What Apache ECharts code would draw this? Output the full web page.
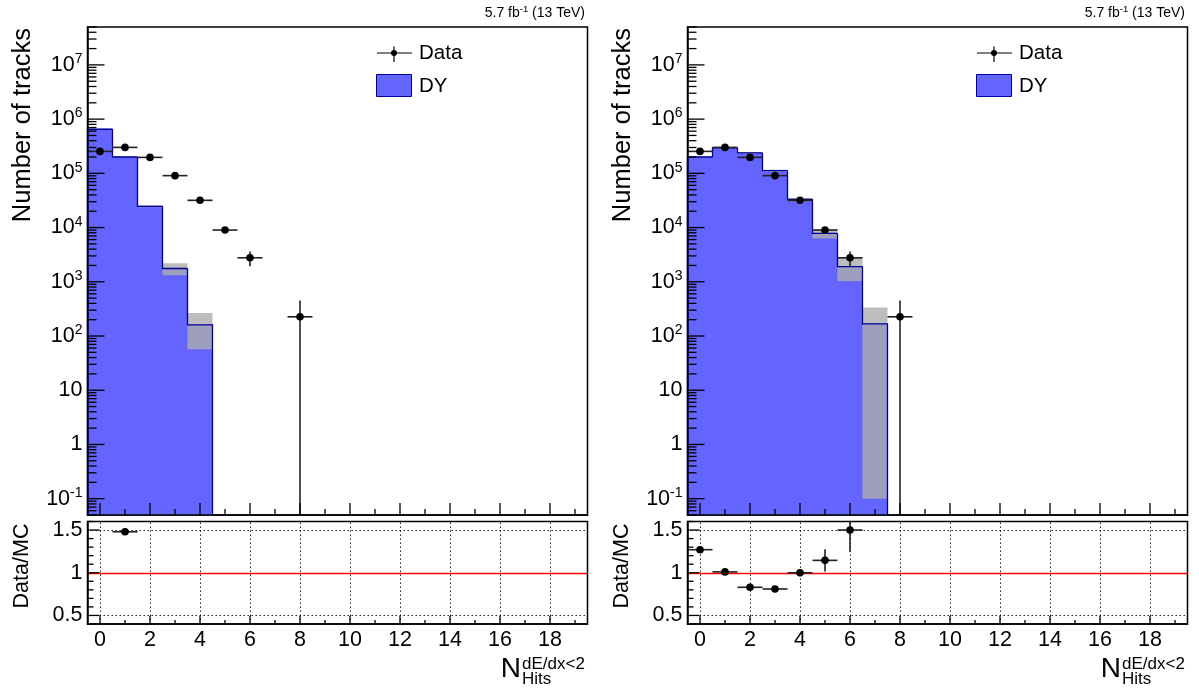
<!DOCTYPE html>
<html>
<head>
<meta charset="utf-8">
<script src="https://cdn.jsdelivr.net/npm/echarts@6/dist/echarts.min.js"></script>
<style>
html,body{margin:0;padding:0;background:#fff;}
#chart{width:1199px;height:699px;}
</style>
</head>
<body>
<div id="chart"></div>
<script>
// ---------------- data ----------------
const bins = [0, 1, 2, 3, 4, 5, 6, 7, 8];
const dataVals = [2.54e5, 3.01e5, 1.97e5, 9.07e4, 3.18e4, 9.0e3, 2.77e3, 0, 226];
const dataErrs = [1.2e3, 1.3e3, 1.1e3, 8e2, 5e2, 4e2, 8.3e2, 0, 226];
const dyLeftVals = [6.5e5, 2.0e5, 2.46e4, 1.76e3, 161, 0, 0, 0, 0];
const dyLeftErrs = [8e3, 3e3, 1.0e3, 440, 104, 0, 0, 0, 0];
const dyRightVals = [2.0e5, 2.94e5, 2.38e5, 1.12e5, 3.32e4, 7.8e3, 1.9e3, 167, 0];
const dyRightErrs = [3e3, 5e3, 9e3, 5e3, 2e3, 1.5e3, 870, 167, 0];
const ratioLeftVals = [null, 1.48, null, null, null, null, null, null, null];
const ratioLeftErrs = [0, 0.01, 0, 0, 0, 0, 0, 0, 0];
const ratioRightVals = [1.27, 1.01, 0.83, 0.81, 1.0, 1.145, 1.5, null, null];
const ratioRightErrs = [0.01, 0.01, 0.01, 0.01, 0.04, 0.13, 0.255, 0, 0];
const xLabelValues = [0, 2, 4, 6, 8, 10, 12, 14, 16, 18];
const legendLabels = ['Data', 'DY'];
const lumiText = '5.7 fb{s|-1} (13 TeV)';
const yTitleTop = 'Number of tracks';
const yTitleRatio = 'Data/MC';

// ---------------- styling ----------------
const FONT = '"Liberation Sans", Arial, Helvetica, sans-serif';
const BLUE = '#6464ff';
const BLUE_LINE = '#000099';
const BAND = 'rgba(172,172,172,0.8)';
const X_MIN = -0.5, X_MAX = 19.5;
const TOP_MIN = 0.05, TOP_MAX = 5e7;
const R_MIN = 0.4, R_MAX = 1.6;

const panels = [
  {off: 0, dy: dyLeftVals, dyErr: dyLeftErrs, rv: ratioLeftVals, re: ratioLeftErrs},
  {off: 600, dy: dyRightVals, dyErr: dyRightErrs, rv: ratioRightVals, re: ratioRightErrs}
];

function fillRender(yMin) {
  return function (params, api) {
    const x = api.value(0), v = api.value(1);
    const a = api.coord([x - 0.5, yMin]);
    const b = api.coord([x + 0.5, v]);
    return {type: 'rect', shape: {x: a[0], y: b[1], width: b[0] - a[0], height: a[1] - b[1]},
      style: {fill: BLUE, stroke: BLUE, lineWidth: 1}};
  };
}
function bandRender(yMin, yMax) {
  return function (params, api) {
    const x = api.value(0), v = api.value(1), e = api.value(2);
    const lo = Math.max(v - e, 0.1), hi = Math.min(v + e, yMax);
    const a = api.coord([x - 0.5, Math.max(lo, yMin)]);
    const b = api.coord([x + 0.5, hi]);
    return {type: 'rect', shape: {x: a[0], y: b[1], width: b[0] - a[0], height: a[1] - b[1]},
      style: {fill: BAND}};
  };
}
function outlineRender(yMin) {
  return function (params, api) {
    const x = api.value(0), v = api.value(1), prev = api.value(2), last = api.value(3);
    const p0 = api.coord([x - 0.5, prev > 0 ? prev : yMin]);
    const p1 = api.coord([x - 0.5, v]);
    const p2 = api.coord([x + 0.5, v]);
    const pts = [p0, p1, p2];
    if (last) pts.push(api.coord([x + 0.5, yMin]));
    return {type: 'polyline', shape: {points: pts}, style: {stroke: BLUE_LINE, lineWidth: 1.3, fill: null}};
  };
}
function pointRender(yMin, yMax) {
  return function (params, api) {
    const x = api.value(0), v = api.value(1), e = api.value(2);
    const c = api.coord([x, v]);
    const l = api.coord([x - 0.5, v]);
    const r = api.coord([x + 0.5, v]);
    const lo = api.coord([x, Math.max(v - e, yMin)]);
    const hi = api.coord([x, Math.min(v + e, yMax)]);
    return {type: 'group', children: [
      {type: 'line', shape: {x1: l[0], y1: c[1], x2: r[0], y2: c[1]}, style: {stroke: '#222', lineWidth: 1.6}},
      {type: 'line', shape: {x1: c[0], y1: lo[1], x2: c[0], y2: hi[1]}, style: {stroke: '#222', lineWidth: 1.6}},
      {type: 'circle', shape: {cx: c[0], cy: c[1], r: 3.8}, style: {fill: '#000'}}
    ]};
  };
}
function xTickRender(majLen, minLen) {
  return function (params, api) {
    const x = api.value(0), y = api.value(1), major = api.value(2);
    const p = api.coord([x, y]);
    const len = major ? majLen : minLen;
    return {type: 'line', shape: {x1: p[0], y1: p[1], x2: p[0], y2: p[1] - len},
      style: {stroke: '#000', lineWidth: 1.3}};
  };
}
function yTickRender(majLen, minLen) {
  return function (params, api) {
    const x = api.value(0), y = api.value(1), major = api.value(2);
    const p = api.coord([x, y]);
    const len = major ? majLen : minLen;
    return {type: 'line', shape: {x1: p[0], y1: p[1], x2: p[0] + len, y2: p[1]},
      style: {stroke: '#000', lineWidth: 1.3}};
  };
}

// tick positions
const xTicks = [];
for (let t = 0; t <= 19; t++) xTicks.push([t, t % 2 === 0 ? 1 : 0]);
const logTicks = [];
for (let k = -2; k <= 7; k++) {
  for (let m = 1; m <= 9; m++) {
    const v = m * Math.pow(10, k);
    if (v >= TOP_MIN * 0.999 && v <= TOP_MAX * 1.001) logTicks.push([v, m === 1 ? 1 : 0]);
  }
}
const ratioTicks = [];
for (let i = 4; i <= 16; i++) ratioTicks.push([i / 10, i % 5 === 0 ? 1 : 0]);

function logLabel(v) {
  const lg = Math.log10(v);
  const l = Math.round(lg);
  if (Math.abs(lg - l) > 1e-6) return '';
  if (l === 0) return '1';
  if (l === 1) return '10';
  return '{b|10}{s|' + l + '}';
}

const grid = [], xAxis = [], yAxis = [], series = [], graphic = [];

panels.forEach((P, pi) => {
  const off = P.off;
  const gTop = grid.length, gRat = gTop + 1;
  grid.push({left: 87.5 + off, top: 27, width: 500, height: 488, show: true,
    borderColor: '#000', borderWidth: 1.5, backgroundColor: 'transparent'});
  grid.push({left: 87.5 + off, top: 521.5, width: 500, height: 102.5, show: true,
    borderColor: '#000', borderWidth: 1.5, backgroundColor: 'transparent'});

  const axisLineStyle = {show: true, onZero: false, lineStyle: {color: '#000', width: 1.5}};
  xAxis.push({gridIndex: gTop, type: 'value', min: X_MIN, max: X_MAX, interval: 0.5, z: 10,
    axisLine: axisLineStyle, axisTick: {show: false}, axisLabel: {show: false}, splitLine: {show: false}});
  xAxis.push({gridIndex: gRat, type: 'value', min: X_MIN, max: X_MAX, interval: 0.5, z: 10,
    axisLine: axisLineStyle, axisTick: {show: false}, splitLine: {show: false},
    axisLabel: {show: true, margin: 5, color: '#000', fontFamily: FONT, fontSize: 21.5,
      formatter: function (v) { const r = Math.round(v * 2); return (r >= 0 && r % 4 === 0 && xLabelValues.indexOf(r / 2) >= 0) ? String(r / 2) : ''; }}});
  yAxis.push({gridIndex: gTop, type: 'log', logBase: 10, min: TOP_MIN, max: TOP_MAX, splitNumber: 9, z: 10,
    axisLine: axisLineStyle, axisTick: {show: false}, splitLine: {show: false},
    axisLabel: {show: true, margin: 5, color: '#000', fontFamily: FONT, fontSize: 21.5, formatter: logLabel,
      showMinLabel: false, showMaxLabel: false,
      rich: {b: {fontFamily: FONT, fontSize: 21.5, color: '#000'},
             s: {fontFamily: FONT, fontSize: 14, color: '#000', padding: [0, 0, 11, 0]}}}});
  yAxis.push({gridIndex: gRat, type: 'value', min: R_MIN, max: R_MAX, interval: 0.1, z: 10,
    axisLine: axisLineStyle, axisTick: {show: false}, splitLine: {show: false},
    axisLabel: {show: true, margin: 5, color: '#000', fontFamily: FONT, fontSize: 21.5,
      formatter: function (v) { const r = Math.round(v * 10); return r === 5 ? '0.5' : r === 10 ? '1' : r === 15 ? '1.5' : ''; }}});

  const xi = xAxis.length - 2, yi = yAxis.length - 2;
  const xr = xi + 1, yr = yi + 1;

  const dyItems = [], outItems = [];
  bins.forEach((b, i) => {
    if (P.dy[i] > 0) {
      dyItems.push([b, P.dy[i], P.dyErr[i]]);
      const last = !(P.dy[i + 1] > 0);
      outItems.push([b, P.dy[i], i > 0 ? P.dy[i - 1] : 0, last ? 1 : 0]);
    }
  });
  const ptItems = [];
  bins.forEach((b, i) => { if (dataVals[i] > 0) ptItems.push([b, dataVals[i], dataErrs[i]]); });
  const rItems = [];
  bins.forEach((b, i) => { if (P.rv[i] != null) rItems.push([b, P.rv[i], P.re[i]]); });

  const common = {type: 'custom', silent: true, animation: false, clip: false};
  series.push(Object.assign({}, common, {name: 'DY', xAxisIndex: xi, yAxisIndex: yi, z: 2,
    renderItem: fillRender(TOP_MIN), encode: {x: 0, y: 1}, data: dyItems}));
  series.push(Object.assign({}, common, {name: 'DY unc', xAxisIndex: xi, yAxisIndex: yi, z: 3,
    renderItem: bandRender(TOP_MIN, TOP_MAX), encode: {x: 0, y: 1}, data: dyItems}));
  series.push(Object.assign({}, common, {name: 'DY outline', xAxisIndex: xi, yAxisIndex: yi, z: 4,
    renderItem: outlineRender(TOP_MIN), encode: {x: 0, y: 1}, data: outItems}));
  series.push(Object.assign({}, common, {name: 'Data', xAxisIndex: xi, yAxisIndex: yi, z: 6,
    renderItem: pointRender(TOP_MIN, TOP_MAX), encode: {x: 0, y: 1}, data: ptItems}));
  // ticks top
  series.push(Object.assign({}, common, {name: 'xt', xAxisIndex: xi, yAxisIndex: yi, z: 7,
    renderItem: xTickRender(12, 6), encode: {x: 0, y: 1}, data: xTicks.map(t => [t[0], TOP_MIN, t[1]])}));
  series.push(Object.assign({}, common, {name: 'yt', xAxisIndex: xi, yAxisIndex: yi, z: 7,
    renderItem: yTickRender(17, 9), encode: {x: 0, y: 1}, data: logTicks.map(t => [X_MIN, t[0], t[1]])}));
  // ratio grid lines
  series.push({type: 'line', xAxisIndex: xr, yAxisIndex: yr, data: [], silent: true, z: 1,
    markLine: {silent: true, symbol: 'none', animation: false, label: {show: false},
      lineStyle: {color: '#000', width: 1, type: [1.5, 2.5], opacity: 0.85},
      data: xLabelValues.map(v => ({xAxis: v})).concat([{yAxis: 0.5}, {yAxis: 1.5}])}});
  series.push({type: 'line', xAxisIndex: xr, yAxisIndex: yr, data: [], silent: true, z: 2,
    markLine: {silent: true, symbol: 'none', animation: false, label: {show: false},
      lineStyle: {color: '#ff0000', width: 1.4, type: 'solid'}, data: [{yAxis: 1}]}});
  series.push(Object.assign({}, common, {name: 'Ratio', xAxisIndex: xr, yAxisIndex: yr, z: 6,
    renderItem: pointRender(R_MIN, R_MAX), encode: {x: 0, y: 1}, data: rItems}));
  series.push(Object.assign({}, common, {name: 'rxt', xAxisIndex: xr, yAxisIndex: yr, z: 7,
    renderItem: xTickRender(8, 4), encode: {x: 0, y: 1}, data: xTicks.map(t => [t[0], R_MIN, t[1]])}));
  series.push(Object.assign({}, common, {name: 'ryt', xAxisIndex: xr, yAxisIndex: yr, z: 7,
    renderItem: yTickRender(12, 6), encode: {x: 0, y: 1}, data: ratioTicks.map(t => [X_MIN, t[0], t[1]])}));

  // texts
  graphic.push({type: 'text', x: 585 + off, y: 13, style: {text: lumiText, align: 'right', verticalAlign: 'middle',
    fontFamily: FONT, fontSize: 14, fill: '#000', rich: {s: {fontFamily: FONT, fontSize: 9.5, padding: [0, 0, 8, 0]}}}});
  graphic.push({type: 'text', x: 23 + off, y: 28, rotation: Math.PI / 2,
    style: {text: yTitleTop, align: 'right', verticalAlign: 'middle', fontFamily: FONT, fontSize: 25.5, fill: '#000'}});
  graphic.push({type: 'text', x: 22 + off, y: 566, rotation: Math.PI / 2,
    style: {text: yTitleRatio, align: 'center', verticalAlign: 'middle', fontFamily: FONT, fontSize: 21.5, fill: '#000'}});
  // x title N^{dE/dx<2}_{Hits}
  graphic.push({type: 'text', x: 521 + off, y: 683, style: {text: 'N', align: 'right', verticalAlign: 'bottom',
    fontFamily: FONT, fontSize: 28, fill: '#000'}});
  graphic.push({type: 'text', x: 522 + off, y: 664, style: {text: 'dE/dx<2', align: 'left', verticalAlign: 'middle',
    fontFamily: FONT, fontSize: 17, fill: '#000'}});
  graphic.push({type: 'text', x: 522 + off, y: 679, style: {text: 'Hits', align: 'left', verticalAlign: 'middle',
    fontFamily: FONT, fontSize: 17, fill: '#000'}});
  // legend
  graphic.push({type: 'line', shape: {x1: 377 + off, y1: 53, x2: 412 + off, y2: 53}, style: {stroke: '#000', lineWidth: 1.2}});
  graphic.push({type: 'line', shape: {x1: 394 + off, y1: 46.5, x2: 394 + off, y2: 62}, style: {stroke: '#000', lineWidth: 1.2}});
  graphic.push({type: 'circle', shape: {cx: 394 + off, cy: 53, r: 3}, style: {fill: '#000'}});
  graphic.push({type: 'text', x: 419 + off, y: 53, style: {text: legendLabels[0], verticalAlign: 'middle',
    fontFamily: FONT, fontSize: 20.5, fill: '#000'}});
  graphic.push({type: 'rect', shape: {x: 376.5 + off, y: 74.5, width: 35, height: 22}, style: {fill: BLUE, stroke: BLUE_LINE, lineWidth: 1}});
  graphic.push({type: 'text', x: 419 + off, y: 86, style: {text: legendLabels[1], verticalAlign: 'middle',
    fontFamily: FONT, fontSize: 20.5, fill: '#000'}});
});

const chart = echarts.init(document.getElementById('chart'), null, {renderer: 'canvas'});
chart.setOption({animation: false, backgroundColor: '#fff', grid, xAxis, yAxis, series, graphic});
</script>
</body>
</html>
